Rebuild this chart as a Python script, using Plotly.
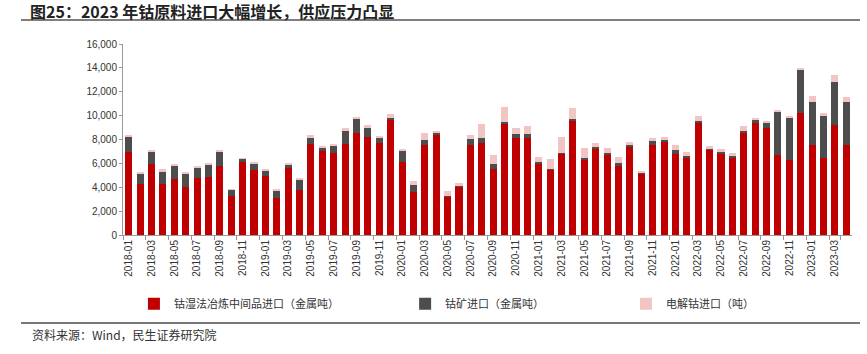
import plotly.graph_objects as go

months = [f"{y}-{m:02d}" for y in range(2018, 2024) for m in range(1, 13)][:64]

# stacked tops (thousand tonnes)
red_top = [6.92,4.30,5.98,4.30,4.66,3.99,4.80,4.89,5.81,3.24,6.15,5.47,
           4.92,3.07,5.64,3.80,7.65,7.04,6.90,7.60,8.52,8.18,7.68,9.66,
           6.15,3.63,7.54,8.38,3.21,4.05,7.54,7.68,5.56,9.27,8.16,8.16,
           6.03,5.47,6.82,9.58,6.31,7.21,6.70,5.78,7.37,5.14,7.54,7.82,
           6.82,6.45,9.41,7.15,6.84,6.48,8.58,9.36,8.99,6.73,6.26,10.25,
           7.54,6.42,9.25,7.51]
dark_top = [8.25,5.14,6.98,5.31,5.78,5.14,5.64,5.89,6.98,3.83,6.37,6.01,
            5.39,3.72,5.87,4.61,8.13,7.32,7.49,8.72,9.69,8.99,8.13,9.83,
            7.04,4.22,7.99,8.55,3.27,4.11,8.04,8.13,5.98,9.47,8.49,8.49,
            6.12,5.56,6.84,9.72,6.42,7.40,6.87,6.01,7.57,5.20,7.85,7.96,
            7.15,6.62,9.53,7.23,6.96,6.62,8.74,9.64,9.44,10.34,9.86,13.85,
            11.17,10.00,12.85,11.12]
pink_top = [8.38,5.28,7.15,5.50,5.95,5.20,5.70,6.03,7.04,3.85,6.42,6.06,
            5.45,3.80,5.95,4.78,8.38,7.49,7.63,8.94,9.86,9.25,8.27,10.11,
            7.18,4.53,8.52,8.69,3.69,4.36,8.38,9.27,6.70,10.70,8.99,9.16,
            6.56,6.34,8.21,10.61,7.29,7.71,7.29,6.56,7.79,5.39,8.13,8.21,
            7.51,6.96,9.94,7.43,7.21,6.84,9.11,9.83,9.55,10.45,9.94,13.94,
            11.68,10.22,13.38,11.56]

wet_intermediate = [round(r * 1000) for r in red_top]
ore = [round((d - r) * 1000) for r, d in zip(red_top, dark_top)]
electrolytic = [round((p - d) * 1000) for d, p in zip(dark_top, pink_top)]

names = ["钴湿法冶炼中间品进口（金属吨）", "钴矿进口（金属吨）", "电解钴进口（吨）"]
colors = ["#C00000", "#4D4D4D", "#F2C4C4"]
series = [wet_intermediate, ore, electrolytic]
legends = ["legend", "legend2", "legend3"]

fig = go.Figure()
for name, col, vals, lg in zip(names, colors, series, legends):
    fig.add_trace(go.Bar(x=months, y=vals, name=name, marker_color=col,
                         marker_line_width=0, legend=lg, showlegend=True))

tickvals = months[::2]
cjk = "Noto Sans CJK SC, Liberation Sans, sans-serif"
legend_common = dict(orientation="h", yanchor="middle", y=-0.36, xanchor="left",
                     font=dict(family=cjk, size=11, color="#333"),
                     bgcolor="rgba(0,0,0,0)", itemwidth=30, visible=True)
fig.update_layout(
    width=867, height=354,
    margin=dict(l=123, r=15, t=44, b=119),
    barmode="stack", bargap=0.38, showlegend=True,
    plot_bgcolor="white", paper_bgcolor="white",
    font=dict(family="Liberation Sans, Arial, sans-serif", size=10, color="#333"),
    legend=dict(**legend_common, x=0.015),
    legend2=dict(**legend_common, x=0.387),
    legend3=dict(**legend_common, x=0.69),
    xaxis=dict(type="category", tickmode="array", tickvals=tickvals,
               tickangle=-90, ticks="outside", ticklen=4, tickson="boundaries",
               tickcolor="#999", showline=True, linecolor="#999",
               showgrid=False, tickfont=dict(size=10, color="#333")),
    yaxis=dict(range=[0, 16000], dtick=2000, tickformat=",", showgrid=False,
               showline=True, linecolor="#999", ticks="outside", ticklen=3,
               tickcolor="#999", zeroline=False, tickfont=dict(size=10, color="#333")),
)

fig.add_annotation(text="<b>图25：2023 年钴原料进口大幅增长，供应压力凸显</b>",
                   xref="paper", yref="paper", x=(28 - 123) / 729, y=1 + (44 - 11) / 191,
                   xanchor="left", yanchor="middle", showarrow=False,
                   font=dict(family=cjk, size=16, color="#222"))
fig.add_shape(type="line", xref="paper", yref="paper",
              x0=(21 - 123) / 729, x1=(860 - 123) / 729,
              y0=1 + (44 - 20) / 191, y1=1 + (44 - 20) / 191,
              line=dict(color="#555", width=1.5))
fig.add_shape(type="line", xref="paper", yref="paper",
              x0=(21 - 123) / 729, x1=(860 - 123) / 729,
              y0=-(323 - 235) / 191, y1=-(323 - 235) / 191,
              line=dict(color="#777", width=2))
fig.add_annotation(text="资料来源：Wind，民生证券研究院",
                   xref="paper", yref="paper", x=(30 - 123) / 729, y=-(334 - 235) / 191,
                   xanchor="left", yanchor="middle", showarrow=False,
                   font=dict(family=cjk, size=12, color="#333"))

fig.write_html("out.html")
